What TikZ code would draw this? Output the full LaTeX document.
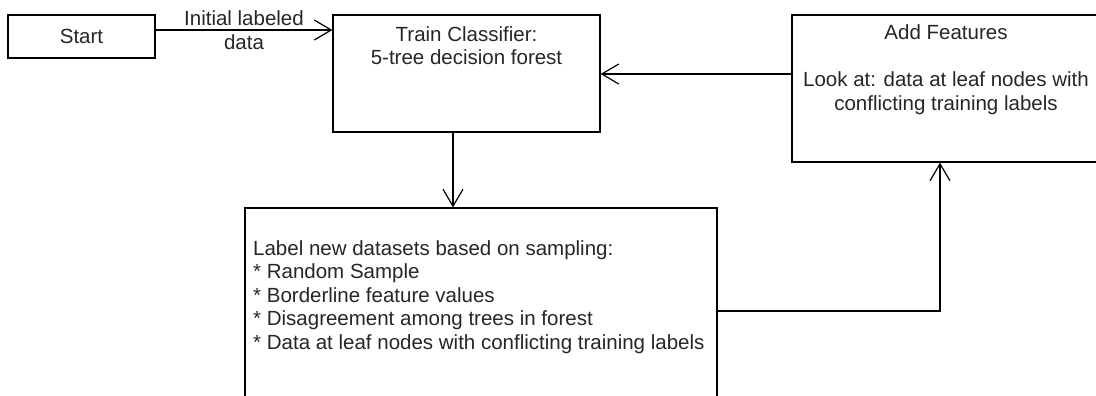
\documentclass[tikz,border=0pt]{standalone}
\usepackage{fontspec}
\setmainfont{Liberation Sans}
\usetikzlibrary{arrows.meta}
\begin{document}
\begin{tikzpicture}[
        x=1pt, y=-1pt,
        box/.style={draw, line width=1.2pt, inner sep=0pt},
        txt/.style={font=\fontsize{20.5}{23.5}\selectfont, inner sep=0pt, text=black!85},
        arrow/.style={-{Straight Barb[length=17pt, width=20pt, line width=1.2pt]}, line width=1.2pt}
    ]
    \useasboundingbox (0,0) rectangle (1096,396);

    % Boxes
    \node[box, txt, minimum width=147pt, minimum height=43pt] (start) at (81.5,36.5) {Start};
    \node[box, minimum width=267pt, minimum height=117pt] (train) at (466.5,73.5) {};
    \node[box, minimum width=328pt, minimum height=147pt] (feat) at (956,88.5) {};
    \node[box, minimum width=472pt, minimum height=206pt] (lab) at (481,311) {};

    % Texts
    \node[txt, align=center] (traintxt) at (466.5,45.5) {Train Classifier:\\5-tree decision forest};
    \node[txt, align=center] (feattxt) at (946,69.5) {Add Features\\\mbox{}\\Look at: data at leaf nodes with\\conflicting training labels};
    \node[txt, align=left, anchor=west] (labtxt) at (253,297) {Label new datasets based on sampling:\\* Random Sample\\* Borderline feature values\\* Disagreement among trees in forest\\* Data at leaf nodes with conflicting training labels};

    % Connectors
    \draw[arrow] ([yshift=6.5pt]start.east) -- node[txt, align=center] {Initial labeled\\data} ([yshift=6.5pt]start.east -| train.west);
    \draw[arrow] ([yshift=14.5pt]feat.west) -- ([yshift=14.5pt]feat.west -| train.east);
    \draw[arrow] ([xshift=-13.5pt]train.south) -- ([xshift=-13.5pt]train.south |- lab.north);
    \draw[arrow] (lab.east) -| ([xshift=-16pt]feat.south);

\end{tikzpicture}
\end{document}
